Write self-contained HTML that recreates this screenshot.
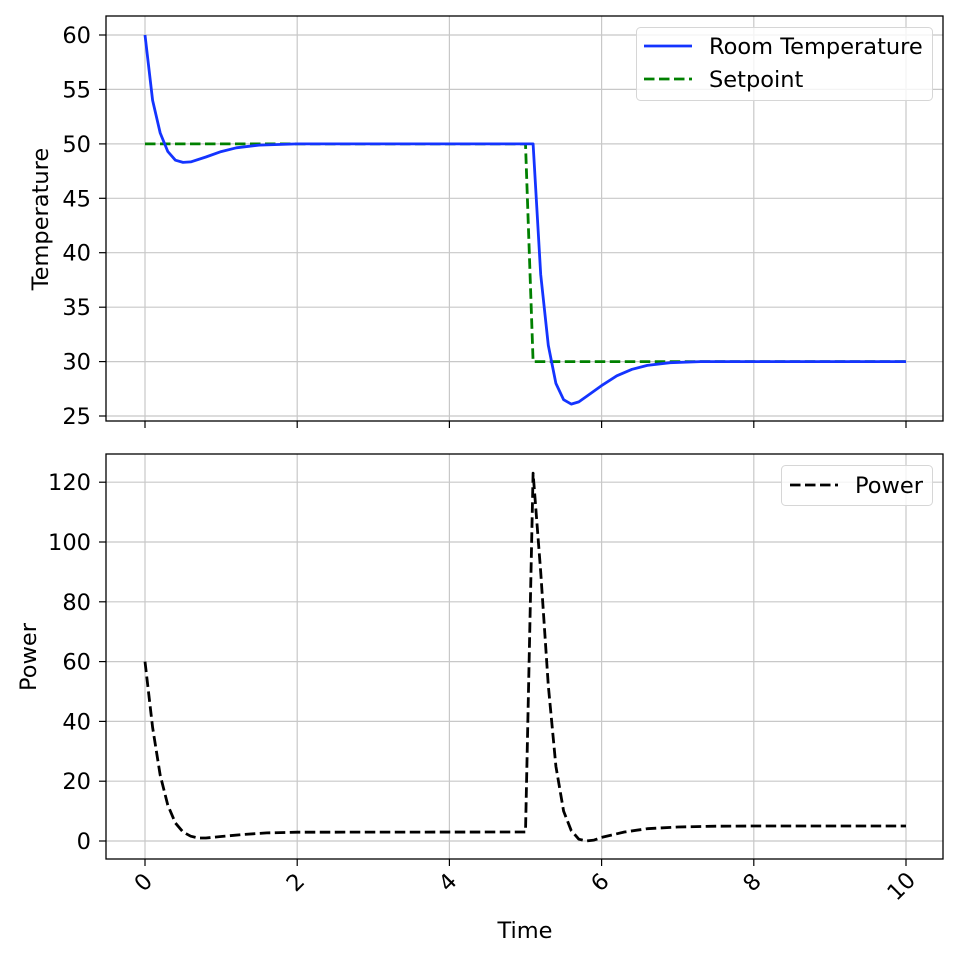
<!DOCTYPE html>
<html><head><meta charset="utf-8"><style>
html,body{margin:0;padding:0;background:#fff}
svg{display:block}
text{font-family:"DejaVu Sans","Liberation Sans",sans-serif;fill:#000}
</style></head><body>
<svg width="960" height="959" viewBox="0 0 960 959" xmlns="http://www.w3.org/2000/svg">
<rect width="960" height="959" fill="#fff"/>
<g stroke="#c8c8c8" stroke-width="1.2">
<line x1="145" y1="16" x2="145" y2="421"/><line x1="297.2" y1="16" x2="297.2" y2="421"/><line x1="449.4" y1="16" x2="449.4" y2="421"/><line x1="601.6" y1="16" x2="601.6" y2="421"/><line x1="753.8" y1="16" x2="753.8" y2="421"/><line x1="906" y1="16" x2="906" y2="421"/>
<line x1="106" y1="35" x2="943" y2="35"/><line x1="106" y1="89.4" x2="943" y2="89.4"/><line x1="106" y1="143.9" x2="943" y2="143.9"/><line x1="106" y1="198.3" x2="943" y2="198.3"/><line x1="106" y1="252.7" x2="943" y2="252.7"/><line x1="106" y1="307.2" x2="943" y2="307.2"/><line x1="106" y1="361.6" x2="943" y2="361.6"/><line x1="106" y1="416" x2="943" y2="416"/>
<line x1="145" y1="454" x2="145" y2="859"/><line x1="297.2" y1="454" x2="297.2" y2="859"/><line x1="449.4" y1="454" x2="449.4" y2="859"/><line x1="601.6" y1="454" x2="601.6" y2="859"/><line x1="753.8" y1="454" x2="753.8" y2="859"/><line x1="906" y1="454" x2="906" y2="859"/>
<line x1="106" y1="841" x2="943" y2="841"/><line x1="106" y1="781.2" x2="943" y2="781.2"/><line x1="106" y1="721.4" x2="943" y2="721.4"/><line x1="106" y1="661.6" x2="943" y2="661.6"/><line x1="106" y1="601.8" x2="943" y2="601.8"/><line x1="106" y1="542" x2="943" y2="542"/><line x1="106" y1="482.2" x2="943" y2="482.2"/>
</g>
<polyline fill="none" stroke="#008000" stroke-width="2.8" stroke-dasharray="10.5,4.5" points="145,143.9 525.5,143.9 533.1,361.6 906,361.6"/>
<polyline fill="none" stroke="#1434ff" stroke-width="2.8" stroke-linejoin="round" points="145,35 152.6,100.3 160.2,133 167.8,151.5 175.4,160.2 183,162.4 190.7,161.9 205.9,157 221.1,151.6 236.3,147.8 259.2,145.1 297.2,143.9 533.1,143.9 540.7,274.5 548.3,345.3 555.9,383.4 563.6,399.7 571.2,404.1 578.8,401.9 586.4,396.5 601.6,385.6 616.8,375.8 632,369.3 647.3,365.4 670.1,362.7 700.5,361.6 906,361.6"/>
<polyline fill="none" stroke="#000" stroke-width="2.8" stroke-dasharray="10.5,4.5" stroke-linejoin="round" points="145,661.6 152.6,727.4 160.2,775.2 167.8,805.1 175.4,823 183,832 190.7,836.2 198.3,838 205.9,838 221.1,836.5 243.9,834.4 266.8,832.9 297.2,832.2 525.5,832 533.1,473.2 540.7,571.9 548.3,685.5 555.9,766.3 563.6,811.1 571.2,830.5 578.8,839.2 586.4,841 594,840.1 601.6,837.4 624.4,832 647.3,828.7 677.7,827 715.8,826.2 753.8,826 906,826"/>
<rect x="106" y="16" width="837" height="405" fill="none" stroke="#000" stroke-width="1.3"/>
<rect x="106" y="454" width="837" height="405" fill="none" stroke="#000" stroke-width="1.3"/>
<g stroke="#000" stroke-width="1.2">
<line x1="145" y1="421" x2="145" y2="428"/><line x1="297.2" y1="421" x2="297.2" y2="428"/><line x1="449.4" y1="421" x2="449.4" y2="428"/><line x1="601.6" y1="421" x2="601.6" y2="428"/><line x1="753.8" y1="421" x2="753.8" y2="428"/><line x1="906" y1="421" x2="906" y2="428"/>
<line x1="145" y1="859" x2="145" y2="866"/><line x1="297.2" y1="859" x2="297.2" y2="866"/><line x1="449.4" y1="859" x2="449.4" y2="866"/><line x1="601.6" y1="859" x2="601.6" y2="866"/><line x1="753.8" y1="859" x2="753.8" y2="866"/><line x1="906" y1="859" x2="906" y2="866"/>
<line x1="99" y1="35" x2="106" y2="35"/><line x1="99" y1="89.4" x2="106" y2="89.4"/><line x1="99" y1="143.9" x2="106" y2="143.9"/><line x1="99" y1="198.3" x2="106" y2="198.3"/><line x1="99" y1="252.7" x2="106" y2="252.7"/><line x1="99" y1="307.2" x2="106" y2="307.2"/><line x1="99" y1="361.6" x2="106" y2="361.6"/><line x1="99" y1="416" x2="106" y2="416"/>
<line x1="99" y1="841" x2="106" y2="841"/><line x1="99" y1="781.2" x2="106" y2="781.2"/><line x1="99" y1="721.4" x2="106" y2="721.4"/><line x1="99" y1="661.6" x2="106" y2="661.6"/><line x1="99" y1="601.8" x2="106" y2="601.8"/><line x1="99" y1="542" x2="106" y2="542"/><line x1="99" y1="482.2" x2="106" y2="482.2"/>
</g>
<g font-size="22.5" text-anchor="end">
<text x="91" y="43">60</text><text x="91" y="97.4">55</text><text x="91" y="151.9">50</text><text x="91" y="206.3">45</text><text x="91" y="260.7">40</text><text x="91" y="315.2">35</text><text x="91" y="369.6">30</text><text x="91" y="424">25</text>
<text x="91" y="849">0</text><text x="91" y="789.2">20</text><text x="91" y="729.4">40</text><text x="91" y="669.6">60</text><text x="91" y="609.8">80</text><text x="91" y="550">100</text><text x="91" y="490.2">120</text>
</g>
<g font-size="22.5" text-anchor="middle">
<text transform="translate(143,882) rotate(-45)" x="0" y="8">0</text>
<text transform="translate(295.2,882) rotate(-45)" x="0" y="8">2</text>
<text transform="translate(447.4,882) rotate(-45)" x="0" y="8">4</text>
<text transform="translate(599.6,882) rotate(-45)" x="0" y="8">6</text>
<text transform="translate(751.8,882) rotate(-45)" x="0" y="8">8</text>
<text transform="translate(901,886) rotate(-45)" x="0" y="8">10</text>
</g>
<text x="525" y="938" font-size="22.5" text-anchor="middle">Time</text>
<text transform="translate(48,219) rotate(-90)" font-size="22.5" text-anchor="middle">Temperature</text>
<text transform="translate(36,657) rotate(-90)" font-size="22.5" text-anchor="middle">Power</text>
<rect x="636.5" y="27.5" width="296" height="73" rx="4" fill="#fff" fill-opacity="0.8" stroke="#d6d6d6"/>
<line x1="644" y1="46" x2="692" y2="46" stroke="#1434ff" stroke-width="2.8"/>
<line x1="644" y1="79" x2="692" y2="79" stroke="#008000" stroke-width="2.8" stroke-dasharray="10.5,4.5"/>
<text x="709" y="54" font-size="22.5">Room Temperature</text>
<text x="709" y="87" font-size="22.5">Setpoint</text>
<rect x="781.5" y="465.5" width="151" height="40" rx="4" fill="#fff" fill-opacity="0.8" stroke="#d6d6d6"/>
<line x1="790" y1="485" x2="838" y2="485" stroke="#000" stroke-width="2.8" stroke-dasharray="10.5,4.5"/>
<text x="855" y="493" font-size="22.5">Power</text>
</svg>
</body></html>
